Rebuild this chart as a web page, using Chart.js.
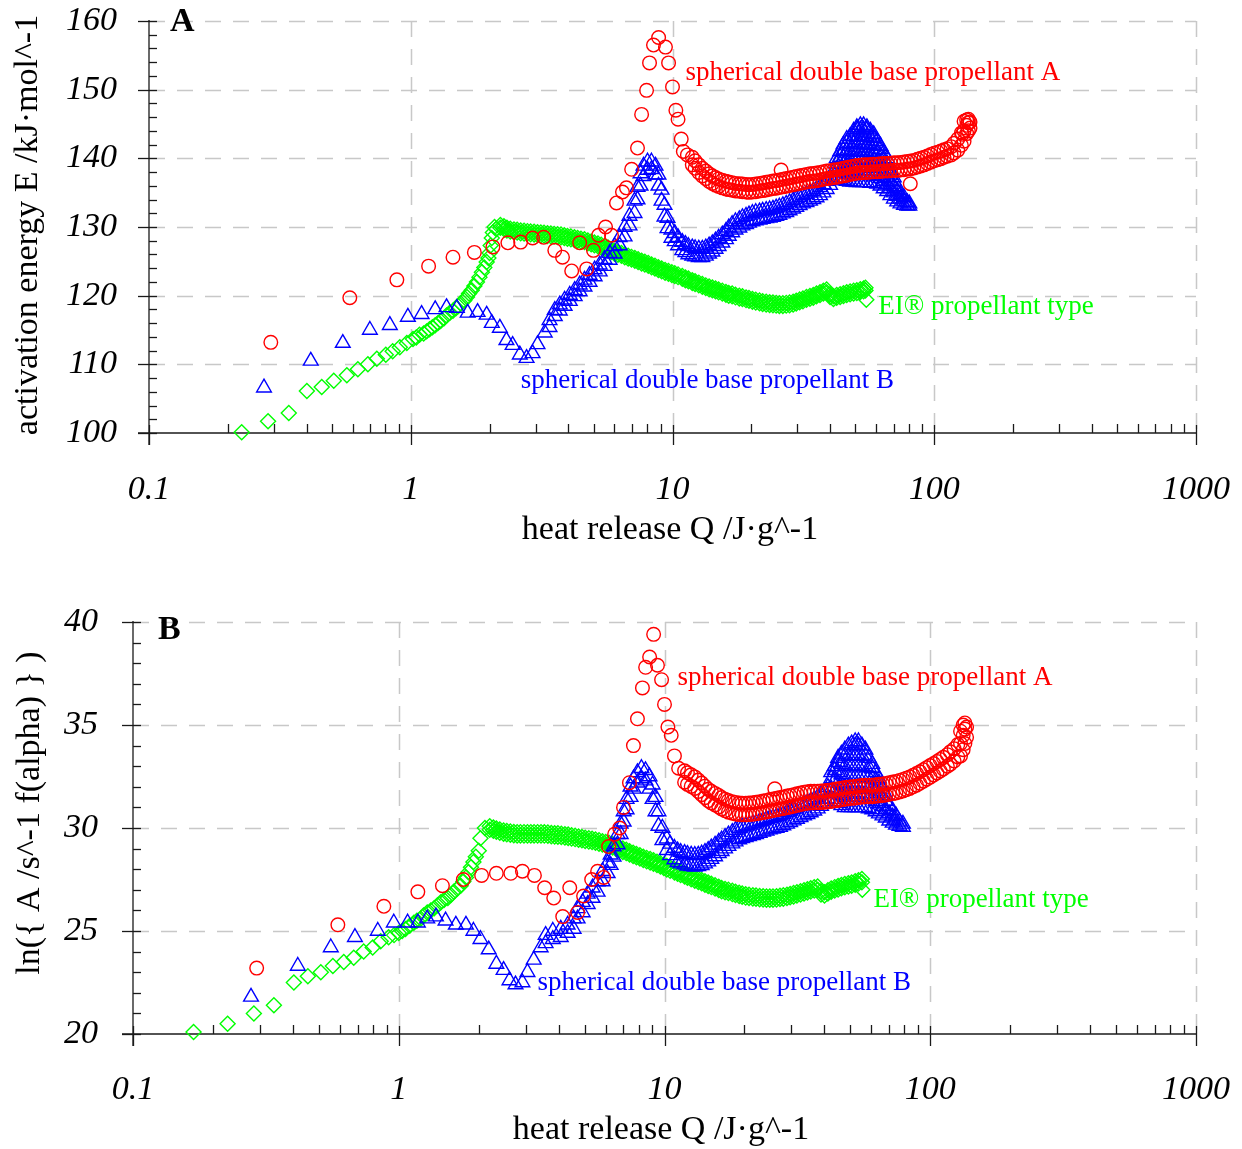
<!DOCTYPE html>
<html>
<head>
<meta charset="utf-8">
<title>Activation energy and pre-exponential factor vs heat release</title>
<script src="https://cdn.jsdelivr.net/npm/chart.js@4.4.1/dist/chart.umd.min.js"></script>
<style>
  html, body { margin: 0; padding: 0; background: #fff; }
  #wrap { position: relative; width: 1242px; height: 1149px; }
  canvas { position: absolute; left: 0; }
  #chartA { top: 0; }
  #chartB { top: 575px; }
</style>
</head>
<body>
<div id="wrap">
  <canvas id="chartA" width="1242" height="575"></canvas>
  <canvas id="chartB" width="1242" height="574"></canvas>
</div>
<script>
/* Kinetic parameters of three propellants against released heat.
   Each row is [Q, value, value, ...]: one heat release Q (J/g) and
   every reading taken at that Q. */

var Q_DECADES = [0.1, 1, 10, 100, 1000];
var Q_LABELS  = ['0.1', '1', '10', '100', '1000'];

/* ── Panel A: activation energy E /kJ·mol^-1 ── */
var A_Y_TICKS = [100, 110, 120, 130, 140, 150, 160];

var A_RED = [
  [0.292,113.2],[0.585,119.7],[0.885,122.3],[1.17,124.3],[1.45,125.6],[1.75,126.3],[2.06,127.1],
  [2.35,127.7],[2.63,127.8],[2.92,128.4],[3.22,128.5],[3.55,126.6],[3.80,125.6],[4.12,123.6],
  [4.42,127.7],[4.70,123.9],[4.99,126.6],[5.22,128.8],[5.55,130.0],[5.85,128.8],[6.11,133.5],
  [6.44,135.1],[6.67,135.7],[6.98,138.4],[7.35,141.5],[7.62,146.4],[7.96,149.9],[8.17,153.9],
  [8.46,156.5],[8.85,157.6],[9.40,156.2],[9.66,153.9],[10.0,150.4],[10.3,147.0],[10.5,145.7],
  [10.8,142.8],[11.0,141.0],[11.4,140.5],
  [11.9,139.05,140.15],[12.2,138.55,139.65],[12.6,137.95,139.05],[13.0,137.45,138.55],[13.4,137.05,138.15],
  [13.8,136.65,137.75],[14.2,136.35,137.45],[14.6,136.1,137.2],[15.0,135.9,137.0],[15.5,135.7,136.8],
  [16.0,135.55,136.65],[16.4,135.45,136.55],[16.9,135.35,136.45],[17.4,135.25,136.35],[18.0,135.2,136.3],
  [18.5,135.15,136.25],[19.1,135.1,136.2],[19.6,135.05,136.15],[20.2,135.1,136.2],[20.8,135.15,136.25],
  [21.5,135.25,136.35],[22.1,135.3,136.4],[22.8,135.4,136.5],[23.5,135.5,136.6],[24.2,135.6,136.7],
  [24.9,135.65,136.75],[25.6,135.75,136.85],[26.0,138.3],[26.4,135.85,136.95],[27.2,135.95,137.05],
  [28.0,136.05,137.15],[28.9,136.15,137.25],[29.7,136.25,137.35],[30.6,136.35,137.45],[31.5,136.45,137.55],
  [32.5,136.55,137.65],[33.5,136.65,137.75],[34.5,136.7,137.8],[35.5,136.75,137.85],[36.6,136.85,137.95],
  [37.7,136.95,138.05],[38.8,137.05,138.15],[40.0,137.1,138.2],[41.2,137.2,138.3],[42.4,137.25,138.35],
  [43.7,137.35,138.45],[45.0,137.45,138.55],[46.3,137.55,138.65],[47.7,137.65,138.75],[49.2,137.75,138.85],
  [50.6,137.85,138.95],[52.2,137.9,139.0],[53.7,137.95,139.05],[55.3,137.95,139.05],[57.0,138.0,139.1],
  [58.7,138.05,139.15],[60.5,138.05,139.15],[62.3,138.1,139.2],[64.1,138.15,139.25],[66.1,138.15,139.25],
  [68.0,138.2,139.3],[70.1,138.25,139.35],[72.2,138.25,139.35],[74.3,138.3,139.4],[76.6,138.35,139.45],
  [78.9,138.45,139.55],[81.0,136.3],[81.2,138.5,139.6],[83.7,138.6,139.7],[86.2,138.75,139.85],
  [88.8,138.9,140.0],[91.4,139.05,140.15],[94.2,139.25,140.35],[97.0,139.45,140.55],[99.9,139.65,140.75],
  [103,139.8,140.9],[106,139.95,141.05],[109,140.15,141.25],[112,140.3,141.4],[116,140.5,141.7],
  [119,140.8,142.2],[123,141.2,142.8],[127,141.9,143.7],[128,143.5],[130,142.5,144.0,145.4],
  [133,143.6,144.8,145.6],[135,144.0,145.2,145.7],[137,144.4,145.3]
];

var A_BLUE = [
  [0.275,106.6],[0.415,110.5],[0.550,113.1],[0.698,115.0],[0.832,115.7],[0.975,116.9],[1.10,117.3],
  [1.24,118.0],[1.37,118.3],[1.50,118.2],[1.65,117.5],[1.80,117.6],[1.95,117.2],[2.04,116.0],
  [2.19,115.3],[2.32,113.5],[2.45,112.8],[2.61,111.4],[2.77,110.9],[2.92,111.6],[3.05,112.9],[3.25,114.6],
  [3.39,115.4,116.4],[3.55,117.0,117.9],[3.71,117.8,118.7],[3.87,118.5,119.4],[4.05,119.2,120.1],
  [4.23,119.9,120.8],[4.42,120.6,121.6],[4.61,121.3,122.3],[4.82,122.0,123.0],[5.04,122.8,123.8],
  [5.27,123.5,124.5],[5.50,124.3,125.3],[5.75,125.2,126.2],[6.01,126.1,127.2],[6.28,127.3,128.5],
  [6.56,128.6,130.0],[6.85,130.2,131.6],[7.16,132.0,133.8],[7.35,134.0,135.8],[7.55,136.0,137.8],
  [7.75,137.4,138.9],[8.03,138.3,139.5],[8.31,138.4,139.5],[8.61,137.6,138.9],[8.84,136.0,137.6],
  [9.08,133.8,135.4],[9.32,131.5,133.2],[9.57,129.8,131.3],[9.91,128.4,129.6],
  [10.2,127.9,129.1],[10.5,127.3,128.5],[10.9,126.6,127.8],[11.2,126.3,127.5],[11.5,126.0,127.2],
  [11.9,125.8,127.0],[12.2,125.7,126.9],[12.6,125.6,126.8],[13.0,125.6,126.8],[13.4,125.8,127.0],
  [13.8,126.1,127.3],[14.2,126.4,127.6],[14.6,126.8,128.0],[15.0,127.2,128.4],[15.5,127.7,128.9],
  [16.0,128.2,129.4],[16.4,128.7,129.9],[16.9,129.2,130.4],[17.4,129.6,130.8],[18.0,129.9,131.1],
  [18.5,130.2,131.4],[19.1,130.4,131.6],[19.6,130.6,131.8],[20.2,130.8,132.0],[20.8,130.95,132.15],
  [21.5,131.05,132.25],[22.1,131.15,132.35],[22.8,131.25,132.45],[23.5,131.35,132.55],[24.2,131.45,132.65],
  [24.9,131.6,132.8],[25.6,131.75,132.95],[26.4,131.95,133.15],[27.2,132.15,133.35],[28.0,132.4,133.6],
  [28.9,132.65,133.85],[29.7,132.9,134.1],[30.6,133.15,134.35],[31.5,133.4,134.6],[32.5,133.6,134.8],
  [33.5,133.8,135.0],[34.5,134.05,135.25],[35.5,134.3,135.5],[36.6,134.6,135.8],[37.7,135.0,136.2],
  [38.8,135.5,136.7],[40.0,136.1,137.3],[41.2,136.8,138.0],
  [42.4,137.0,138.1,139.2,140.0],
  [43.7,136.9,138.0,139.1,140.2,141.0],
  [45.0,136.8,137.9,139.0,140.1,141.2,142.0],
  [46.3,136.7,137.8,138.9,140.0,141.1,142.2,142.8],
  [47.7,136.6,137.7,138.8,139.9,141.0,142.1,143.2],
  [49.2,136.6,137.7,138.8,139.9,141.0,142.1,143.2,144.0],
  [50.6,136.5,137.6,138.7,139.8,140.9,142.0,143.1,144.2,144.5],
  [52.2,136.5,137.6,138.7,139.8,140.9,142.0,143.1,144.2,144.8],
  [53.7,136.5,137.6,138.7,139.8,140.9,142.0,143.1,144.2,144.8],
  [55.3,136.5,137.6,138.7,139.8,140.9,142.0,143.1,144.2,144.5],
  [57.0,136.4,137.5,138.6,139.7,140.8,141.9,143.0,144.0],
  [58.7,136.4,137.5,138.6,139.7,140.8,141.9,142.9,143.5],
  [60.5,136.3,137.4,138.5,139.6,140.7,141.8,142.5],
  [62.3,136.0,137.1,138.2,139.3,140.4,141.3,141.8],
  [64.1,135.6,136.7,137.8,138.9,139.9,140.8],
  [66.1,135.2,136.2,137.2,138.2,139.2,140.0],
  [68.0,134.6,135.6,136.6,137.6,138.3],
  [70.1,134.1,135.0,135.9,136.7,137.2],
  [72.2,133.7,134.5,135.3,135.9],
  [74.3,133.4,134.1,134.8],[76.6,133.2,133.8,134.3],[78.9,133.1,133.6],[80.3,133.1,133.4]
];

var A_GREEN = [
  [0.226,100.1],[0.285,101.7],[0.342,102.9],[0.401,106.1],[0.457,106.7],[0.508,107.6],[0.570,108.4],
  [0.628,109.3],[0.686,110.0],[0.742,110.8],[0.803,111.4],[0.853,111.9],[0.908,112.5],[0.966,113.1],
  [1.02,113.7],[1.05,113.9],[1.08,114.3],[1.12,114.5],[1.15,114.8],[1.18,115.1],[1.21,115.4],
  [1.24,115.7],[1.27,116.0],[1.30,116.3],[1.34,116.7],[1.37,117.1],[1.41,117.5],[1.45,117.8],
  [1.49,118.2],[1.52,118.5],[1.55,118.9],[1.60,119.3],[1.64,119.8],[1.67,120.3],[1.71,120.8],
  [1.75,121.4],[1.79,122.0],[1.83,122.7],[1.87,123.4],[1.91,124.1],[1.95,124.9],[1.98,125.5],
  [2.00,126.2],[2.02,127.3],[2.04,128.4],[2.06,129.2],[2.09,130.0],[2.12,129.7],
  [2.20,129.9,130.3],[2.27,129.7,130.1],[2.33,129.5,129.9],[2.40,129.35,129.75],[2.48,129.25,129.65],
  [2.55,129.2,129.6],[2.63,129.1,129.5],[2.71,129.05,129.45],[2.79,129.0,129.4],[2.87,128.95,129.35],
  [2.96,128.9,129.3],[3.05,128.85,129.25],[3.14,128.8,129.2],[3.23,128.75,129.15],[3.33,128.7,129.1],
  [3.43,128.65,129.05],[3.53,128.6,129.0],[3.64,128.55,128.95],[3.75,128.5,128.9],[3.86,128.4,128.8],
  [3.97,128.3,128.7],[4.09,128.2,128.6],[4.22,128.1,128.5],[4.34,128.0,128.4],[4.47,127.9,128.3],
  [4.61,127.8,128.2],[4.75,127.65,128.05],[4.89,127.5,127.9],[5.03,127.35,127.75],[5.19,127.2,127.6],
  [5.34,127.0,127.4],[5.50,126.8,127.2],[5.67,126.6,127.0],[5.84,126.35,126.75],[6.01,126.1,126.5],
  [6.19,125.95,126.35],[6.38,125.8,126.2],[6.57,125.6,126.0],[6.77,125.4,125.8],[6.97,125.25,125.65],
  [7.18,125.1,125.5],[7.39,124.9,125.3],[7.62,124.7,125.1],[7.84,124.55,124.95],[8.08,124.35,124.75],
  [8.32,124.15,124.55],[8.57,123.95,124.35],[8.83,123.75,124.15],[9.09,123.55,123.95],[9.37,123.35,123.75],
  [9.65,123.2,123.6],[9.94,123.0,123.4],[10.2,122.85,123.25],[10.5,122.7,123.1],[10.9,122.45,122.85],
  [11.2,122.25,122.65],[11.5,122.1,122.5],[11.9,121.85,122.25],[12.2,121.7,122.1],[12.6,121.5,121.9],
  [13.0,121.3,121.7],[13.4,121.1,121.5],[13.8,120.95,121.35],[14.2,120.8,121.2],[14.6,120.65,121.05],
  [15.0,120.5,120.9],[15.5,120.3,120.7],[16.0,120.15,120.55],[16.4,120.0,120.4],[16.9,119.9,120.3],
  [17.4,119.75,120.15],[18.0,119.6,120.0],[18.5,119.5,119.9],[19.1,119.35,119.75],[19.6,119.25,119.65],
  [20.2,119.1,119.5],[20.8,119.0,119.4],[21.5,118.9,119.3],[22.1,118.8,119.2],[22.8,118.7,119.1],
  [23.5,118.65,119.05],[24.2,118.6,119.0],[24.9,118.55,118.95],[25.6,118.5,118.9],[26.4,118.5,118.9],
  [27.2,118.55,118.95],[28.0,118.6,119.0],[28.9,118.7,119.1],[29.7,118.85,119.25],[30.6,119.05,119.45],
  [31.5,119.2,119.6],[32.5,119.4,119.8],[33.5,119.55,119.95],[34.5,119.7,120.1],[35.5,119.9,120.3],
  [36.6,120.1,120.5],[37.7,120.3,120.7],[38.8,120.5,120.9],[40.0,119.8,120.2],[41.2,119.5,119.9],
  [42.4,119.7,120.1],[43.7,119.8,120.2],[45.0,119.95,120.35],[46.3,120.1,120.5],[47.7,120.2,120.6],
  [49.2,120.3,120.7],[50.6,120.4,120.8],[52.2,120.55,120.95],[53.7,120.65,121.05],[54.6,120.75,121.15],
  [55.0,119.4]
];

/* ── Panel B: ln{ A /s^-1 f(alpha) } ── */
var B_Y_TICKS = [20, 25, 30, 35, 40];

var B_RED = [
  [0.292,23.2],[0.590,25.3],[0.879,26.2],[1.18,26.9],[1.46,27.2],[1.75,27.5],[2.05,27.7],[2.33,27.8],
  [2.64,27.8],[2.92,27.9],[3.24,27.7],[3.54,27.1],[3.83,26.6],[4.14,25.7],[4.40,27.1],[4.71,25.9],
  [4.96,26.7],[5.32,27.5],[5.60,27.9],[5.90,27.6],[6.16,29.1],[6.49,29.7],[6.78,30.0],[7.01,31.0],
  [7.38,32.2],[7.64,34.0],[7.91,35.3],[8.26,36.8],[8.49,37.8],[8.79,38.3],[9.10,39.4],[9.41,37.9],
  [9.75,37.2],[10.0,36.0],[10.3,34.9],[10.6,34.5],[10.9,33.5],[11.3,32.9],
  [11.9,32.22,32.78],[12.2,32.12,32.68],[12.6,32.02,32.58],[13.0,31.92,32.48],[13.4,31.77,32.33],
  [13.8,31.62,32.18],[14.2,31.47,32.03],[14.6,31.32,31.88],[15.0,31.22,31.78],[15.5,31.12,31.68],
  [16.0,31.02,31.58],[16.4,30.92,31.48],[16.9,30.84,31.4],[17.4,30.77,31.33],[18.0,30.72,31.28],
  [18.5,30.68,31.24],[19.1,30.65,31.21],[19.6,30.64,31.2],[20.2,30.64,31.2],[20.8,30.65,31.21],
  [21.5,30.67,31.23],[22.1,30.69,31.25],[22.8,30.72,31.28],[23.5,30.75,31.31],[24.2,30.78,31.34],
  [24.9,30.82,31.38],[25.6,30.85,31.41],[26.0,31.9],[26.4,30.88,31.44],[27.2,30.92,31.48],
  [28.0,30.95,31.51],[28.9,30.99,31.55],[29.7,31.02,31.58],[30.6,31.06,31.62],[31.5,31.1,31.66],
  [32.5,31.14,31.7],[33.5,31.18,31.74],[34.5,31.2,31.76],[35.5,31.22,31.78],[36.6,31.22,31.78],
  [37.7,31.23,31.79],[38.8,31.24,31.8],[40.0,31.25,31.81],[41.2,31.27,31.83],[42.4,31.29,31.85],
  [43.7,31.32,31.88],[45.0,31.34,31.9],[46.3,31.37,31.93],[47.7,31.4,31.96],[49.2,31.42,31.98],
  [50.6,31.44,32.0],[52.2,31.46,32.02],[53.7,31.48,32.04],[55.3,31.5,32.06],[57.0,31.52,32.08],
  [58.7,31.52,32.08],[60.5,31.52,32.08],[62.3,31.54,32.1],[64.1,31.56,32.12],[66.1,31.58,32.14],
  [68.0,31.6,32.16],[70.1,31.64,32.2],[72.2,31.67,32.23],[74.3,31.7,32.26],[76.6,31.75,32.31],
  [78.9,31.8,32.36],[81.2,31.86,32.42],[83.7,31.92,32.48],[86.2,32.0,32.56],[88.8,32.08,32.64],
  [91.4,32.17,32.73],[94.2,32.27,32.83],[97.0,32.37,32.93],[99.9,32.47,33.03],[103,32.57,33.13],
  [106,32.67,33.23],[109,32.77,33.33],[112,32.87,33.43],[116,33.0,33.56],[119,33.1,33.7],
  [123,33.25,33.85],[127,33.45,34.05],[130,33.5,34.1,34.7],[133,33.8,34.5,35.0],[135,34.1,34.8,35.1],
  [137,34.4,34.9]
];

var B_BLUE = [
  [0.278,21.8],[0.417,23.3],[0.555,24.2],[0.684,24.7],[0.834,25.0],[0.958,25.4],[1.08,25.4],
  [1.18,25.4],[1.28,25.6],[1.38,25.7],[1.50,25.5],[1.64,25.3],[1.79,25.3],[1.91,25.0],[2.03,24.6],
  [2.18,24.1],[2.33,23.4],[2.48,23.1],[2.61,22.6],[2.75,22.4],[2.92,22.5],[3.05,23.0],[3.22,23.6],
  [3.42,24.2],[3.57,24.4,24.8],[3.80,24.6,25.0],[4.07,24.7,25.1],[4.32,24.9,25.3],[4.55,25.1,25.6],
  [4.71,25.6,26.1],[4.92,25.9,26.4],[5.14,26.3,26.8],[5.36,26.6,27.1],[5.60,26.9,27.4],[5.85,27.4,27.9],
  [6.11,27.8,28.3],[6.27,28.2,28.7],[6.43,28.6,29.1],[6.66,29.2,29.7],[6.84,29.7,30.2],[7.02,30.3,30.8],
  [7.20,30.9,31.4],[7.45,31.5,32.0],[7.65,31.9,32.4],[7.91,32.2,32.7],[8.19,32.4,32.9],[8.48,32.3,32.8],
  [8.78,31.9,32.5],[9.02,31.4,32.1],[9.25,30.8,31.5],[9.49,30.1,30.8],[9.82,29.4,30.0],
  [10.2,28.92,29.48],[10.5,28.67,29.23],[10.9,28.47,29.03],[11.2,28.34,28.9],[11.5,28.27,28.83],
  [11.9,28.22,28.78],[12.2,28.17,28.73],[12.6,28.14,28.7],[13.0,28.12,28.68],[13.4,28.14,28.7],
  [13.8,28.19,28.75],[14.2,28.27,28.83],[14.6,28.37,28.93],[15.0,28.49,29.05],[15.5,28.62,29.18],
  [16.0,28.77,29.33],[16.4,28.87,29.43],[16.9,29.0,29.56],[17.4,29.12,29.68],[18.0,29.24,29.8],
  [18.5,29.34,29.9],[19.1,29.44,30.0],[19.6,29.5,30.06],[20.2,29.55,30.11],[20.8,29.6,30.16],
  [21.5,29.65,30.21],[22.1,29.7,30.26],[22.8,29.76,30.32],[23.5,29.82,30.38],[24.2,29.87,30.43],
  [24.9,29.92,30.48],[25.6,29.96,30.52],[26.4,30.0,30.56],[27.2,30.05,30.61],[28.0,30.12,30.68],
  [28.9,30.2,30.76],[29.7,30.28,30.84],[30.6,30.36,30.92],[31.5,30.44,31.0],[32.5,30.52,31.08],
  [33.5,30.6,31.16],[34.5,30.67,31.23],[35.5,30.75,31.31],[36.6,30.84,31.4],[37.7,30.94,31.5],
  [38.8,31.06,31.62],[40.0,31.22,31.78],[41.2,31.42,31.98],
  [42.4,31.4,31.9,32.4,32.7],
  [43.7,31.3,31.8,32.3,32.8,33.0],
  [45.0,31.2,31.7,32.2,32.7,33.2,33.4],
  [46.3,31.1,31.6,32.1,32.6,33.1,33.6],
  [47.7,31.0,31.5,32.0,32.5,33.0,33.5,33.8],
  [49.2,31.0,31.5,32.0,32.5,33.0,33.5,34.0],
  [50.6,31.0,31.5,32.0,32.5,33.0,33.5,34.1],
  [52.2,31.0,31.5,32.0,32.5,33.0,33.5,34.0,34.2],
  [53.7,31.0,31.5,32.0,32.5,33.0,33.5,34.0,34.2],
  [55.3,31.0,31.5,32.0,32.5,33.0,33.5,34.0],
  [57.0,31.0,31.5,32.0,32.5,33.0,33.5,33.8],
  [58.7,30.95,31.45,31.95,32.45,32.95,33.4],
  [60.5,30.9,31.4,31.9,32.4,32.9,33.1],
  [62.3,30.8,31.3,31.8,32.3,32.7],
  [64.1,30.7,31.2,31.7,32.2,32.4],
  [66.1,30.6,31.05,31.5,31.9],
  [68.0,30.5,30.9,31.3,31.6],
  [70.1,30.35,30.7,31.05],
  [72.2,30.25,30.55,30.85],
  [74.3,30.15,30.4,30.6],[76.6,30.1,30.3],[78.9,30.05,30.2]
];

var B_GREEN = [
  [0.169,20.1],[0.227,20.5],[0.285,21.0],[0.339,21.4],[0.403,22.5],[0.455,22.8],[0.509,23.0],
  [0.565,23.3],[0.621,23.5],[0.677,23.7],[0.738,24.0],[0.798,24.2],[0.855,24.5],[0.916,24.7],
  [0.96,24.8],[1.00,24.9],[1.03,25.0],[1.06,25.1],[1.10,25.25],[1.14,25.4],[1.17,25.5],[1.21,25.6],
  [1.24,25.75],[1.28,25.9],[1.32,26.0],[1.36,26.1],[1.40,26.25],[1.44,26.4],[1.48,26.5],[1.53,26.6],
  [1.57,26.75],[1.61,26.9],[1.66,27.05],[1.71,27.2],[1.75,27.4],[1.79,27.6],[1.83,27.85],[1.87,28.1],
  [1.91,28.35],[1.95,28.6],[2.00,28.9],[2.03,29.5],[2.11,30.0],
  [2.20,29.92,30.08],[2.27,29.87,30.03],[2.33,29.82,29.98],[2.40,29.77,29.93],[2.48,29.72,29.88],
  [2.55,29.7,29.86],[2.63,29.67,29.83],[2.71,29.65,29.81],[2.79,29.64,29.8],[2.87,29.64,29.8],
  [2.96,29.64,29.8],[3.05,29.64,29.8],[3.14,29.64,29.8],[3.23,29.64,29.8],[3.33,29.64,29.8],
  [3.43,29.64,29.8],[3.53,29.63,29.79],[3.64,29.62,29.78],[3.75,29.6,29.76],[3.86,29.59,29.75],
  [3.97,29.58,29.74],[4.09,29.56,29.72],[4.22,29.54,29.7],[4.34,29.52,29.68],[4.47,29.49,29.65],
  [4.61,29.46,29.62],[4.75,29.43,29.59],[4.89,29.4,29.56],[5.03,29.37,29.53],[5.19,29.34,29.5],
  [5.34,29.32,29.48],[5.50,29.28,29.44],[5.67,29.24,29.4],[5.84,29.2,29.36],[6.01,29.16,29.32],
  [6.19,29.11,29.27],[6.38,29.05,29.21],[6.57,28.98,29.14],[6.77,28.91,29.07],[6.97,28.84,29.0],
  [7.18,28.78,28.94],[7.39,28.71,28.87],[7.62,28.64,28.8],[7.84,28.58,28.74],[8.08,28.52,28.68],
  [8.32,28.45,28.61],[8.57,28.39,28.55],[8.83,28.33,28.49],[9.09,28.27,28.43],[9.37,28.2,28.36],
  [9.65,28.13,28.29],[9.94,28.06,28.22],[10.2,27.99,28.15],[10.5,27.92,28.08],[10.9,27.84,28.0],
  [11.2,27.78,27.94],[11.5,27.72,27.88],[11.9,27.64,27.8],[12.2,27.58,27.74],[12.6,27.51,27.67],
  [13.0,27.44,27.6],[13.4,27.38,27.54],[13.8,27.32,27.48],[14.2,27.25,27.41],[14.6,27.19,27.35],
  [15.0,27.13,27.29],[15.5,27.06,27.22],[16.0,26.99,27.15],[16.4,26.93,27.09],[16.9,26.88,27.04],
  [17.4,26.84,27.0],[18.0,26.79,26.95],[18.5,26.75,26.91],[19.1,26.7,26.86],[19.6,26.66,26.82],
  [20.2,26.62,26.78],[20.8,26.6,26.76],[21.5,26.58,26.74],[22.1,26.56,26.72],[22.8,26.54,26.7],
  [23.5,26.53,26.69],[24.2,26.52,26.68],[24.9,26.52,26.68],[25.6,26.52,26.68],[26.4,26.53,26.69],
  [27.2,26.55,26.71],[28.0,26.57,26.73],[28.9,26.6,26.76],[29.7,26.64,26.8],[30.6,26.68,26.84],
  [31.5,26.72,26.88],[32.5,26.77,26.93],[33.5,26.82,26.98],[34.5,26.87,27.03],[35.5,26.92,27.08],
  [36.6,26.96,27.12],[37.7,27.0,27.16],[38.8,26.77,26.93],[40.0,26.72,26.88],[41.2,26.82,26.98],
  [42.4,26.9,27.06],[43.7,26.97,27.13],[45.0,27.02,27.18],[46.3,27.07,27.23],[47.7,27.12,27.28],
  [49.2,27.16,27.32],[50.6,27.2,27.36],[52.2,27.25,27.41],[53.7,27.3,27.46],[55.3,27.37,27.53],
  [55.5,27.0]
];

var FONT = '"Liberation Serif", "Times New Roman", serif';
var COL = { red: '#ff0000', blue: '#0000ff', green: '#00ff00', grid: '#c8c8c8', axis: '#1a1a1a' };

/* rows -> {x, y} points */
function toPoints(rows) {
  var pts = [];
  rows.forEach(function (r) {
    for (var i = 1; i < r.length; i++) pts.push({ x: r[0], y: r[i] });
  });
  return pts;
}

function series(label, rows, color, style, radius) {
  return {
    label: label,
    data: toPoints(rows),
    pointStyle: style,
    pointRadius: radius,
    pointBorderWidth: 1.4,
    borderColor: color,
    backgroundColor: 'rgba(0,0,0,0)',
    showLine: false,
    clip: false,
  };
}

function seg(ctx, x1, y1, x2, y2) {
  ctx.beginPath(); ctx.moveTo(x1, y1); ctx.lineTo(x2, y2); ctx.stroke();
}

/* dashed grid, axes with major/minor ticks, tick labels, titles and curve labels */
var frame = {
  id: 'frame',
  beforeDatasetsDraw: function (chart, args, o) {
    var ctx = chart.ctx, a = chart.chartArea, xs = chart.scales.x, ys = chart.scales.y;
    var yT = o.yTicks, v, k, m, px, py;
    ctx.save();
    ctx.strokeStyle = COL.grid; ctx.lineWidth = 1.5; ctx.setLineDash([16, 12]);
    Q_DECADES.slice(1).forEach(function (q) {
      px = Math.round(xs.getPixelForValue(q)) + 0.5;
      seg(ctx, px, a.top, px, a.bottom);
    });
    yT.slice(1).forEach(function (t) {
      py = Math.round(ys.getPixelForValue(t)) + 0.5;
      seg(ctx, a.left, py, a.right, py);
    });
    ctx.setLineDash([]);

    ctx.strokeStyle = COL.axis; ctx.lineWidth = 1.3;
    seg(ctx, a.left, a.top - 1, a.left, a.bottom + 12);
    seg(ctx, a.left - 11, a.bottom, a.right, a.bottom);
    // x: decades cross the axis, 2..9 point inward
    Q_DECADES.forEach(function (q) {
      px = Math.round(xs.getPixelForValue(q)) + 0.5;
      seg(ctx, px, a.bottom - 8, px, a.bottom + 12);
    });
    for (k = -1; k < 3; k++) {
      for (m = 2; m < 10; m++) {
        px = Math.round(xs.getPixelForValue(m * Math.pow(10, k))) + 0.5;
        seg(ctx, px, a.bottom - 9, px, a.bottom);
      }
    }
    // y: majors cross the axis, minors point inward
    for (v = yT[0]; v <= yT[yT.length - 1] + 1e-9; v += o.yMinorStep) {
      py = Math.round(ys.getPixelForValue(v)) + 0.5;
      if (yT.indexOf(Math.round(v * 1000) / 1000) >= 0) seg(ctx, a.left - 11, py, a.left + 8, py);
      else seg(ctx, a.left, py, a.left + 8, py);
    }

    // tick labels
    ctx.fillStyle = '#000';
    ctx.font = 'italic 34px ' + FONT;
    ctx.textBaseline = 'middle';
    ctx.textAlign = 'center';
    Q_DECADES.forEach(function (q, i) {
      ctx.fillText(Q_LABELS[i], xs.getPixelForValue(q), a.bottom + o.xLabelGap);
    });
    ctx.textAlign = 'right';
    yT.forEach(function (t) {
      ctx.fillText(String(t), a.left - o.yLabelGap, ys.getPixelForValue(t));
    });
    ctx.restore();
  },
  afterDraw: function (chart, args, o) {
    var ctx = chart.ctx, a = chart.chartArea, xs = chart.scales.x, ys = chart.scales.y;
    ctx.save();
    ctx.textBaseline = 'middle';
    ctx.textAlign = 'left';
    ctx.font = '27px ' + FONT;
    o.notes.forEach(function (n) {
      ctx.fillStyle = n.color;
      ctx.fillText(n.text, xs.getPixelForValue(n.q), ys.getPixelForValue(n.v));
    });
    ctx.fillStyle = '#000';
    ctx.font = 'bold 34px ' + FONT;
    ctx.fillText(o.letter, a.left + o.letterAt[0], a.top + o.letterAt[1]);
    ctx.font = '34px ' + FONT;
    ctx.textAlign = 'center';
    ctx.fillText(o.xTitle, o.xTitleAt[0], o.xTitleAt[1]);
    ctx.translate(o.yTitleAt[0], o.yTitleAt[1]);
    ctx.rotate(-Math.PI / 2);
    ctx.fillText(o.yTitle, 0, 0);
    ctx.restore();
  }
};

function makePanel(id, p) {
  return new Chart(document.getElementById(id), {
    type: 'scatter',
    data: {
      datasets: [
        series('spherical double base propellant A', p.red, COL.red, 'circle', 6.8),
        series('spherical double base propellant B', p.blue, COL.blue, 'triangle', 8.5),
        series('EI® propellant type', p.green, COL.green, 'rectRot', 7.5),
      ],
    },
    options: {
      responsive: false,
      animation: false,
      devicePixelRatio: 1,
      layout: { padding: { top: p.padTop, right: 46, left: 0, bottom: 0 } },
      plugins: {
        legend: { display: false },
        tooltip: { enabled: false },
        frame: p.frame,
      },
      scales: {
        x: {
          type: 'logarithmic',
          min: Q_DECADES[0],
          max: Q_DECADES[Q_DECADES.length - 1],
          grid: { display: false, drawTicks: false },
          border: { display: false },
          ticks: { display: false },
          afterFit: function (s) { s.height = p.xHeight; },
        },
        y: {
          min: p.yTicks[0],
          max: p.yTicks[p.yTicks.length - 1],
          grid: { display: false, drawTicks: false },
          border: { display: false },
          ticks: { display: false, stepSize: p.yTicks[1] - p.yTicks[0] },
          afterFit: function (s) { s.width = p.yWidth; },
        },
      },
    },
    plugins: [frame],
  });
}

makePanel('chartA', {
  red: A_RED, blue: A_BLUE, green: A_GREEN, yTicks: A_Y_TICKS,
  padTop: 21, xHeight: 142, yWidth: 149,
  frame: {
    yTicks: A_Y_TICKS, yMinorStep: 2, xLabelGap: 57, yLabelGap: 32,
    letter: 'A', letterAt: [21, 1],
    xTitle: 'heat release Q /J·g^-1', xTitleAt: [670, 530],
    yTitle: 'activation energy E /kJ·mol^-1', yTitleAt: [28, 225],
    notes: [
      { text: 'spherical double base propellant A', color: COL.red, q: 11.2, v: 152.5 },
      { text: 'spherical double base propellant B', color: COL.blue, q: 2.63, v: 107.6 },
      { text: 'EI® propellant type', color: COL.green, q: 61.1, v: 118.3 },
    ],
  },
});

makePanel('chartB', {
  red: B_RED, blue: B_BLUE, green: B_GREEN, yTicks: B_Y_TICKS,
  padTop: 47, xHeight: 115, yWidth: 133,
  frame: {
    yTicks: B_Y_TICKS, yMinorStep: 1, xLabelGap: 56, yLabelGap: 35,
    letter: 'B', letterAt: [25, 8],
    xTitle: 'heat release Q /J·g^-1', xTitleAt: [661, 555],
    yTitle: 'ln({ A /s^-1 f(alpha) } )', yTitleAt: [30, 238],
    notes: [
      { text: 'spherical double base propellant A', color: COL.red, q: 11.2, v: 37.3 },
      { text: 'spherical double base propellant B', color: COL.blue, q: 3.33, v: 22.5 },
      { text: 'EI® propellant type', color: COL.green, q: 61.1, v: 26.5 },
    ],
  },
});
</script>
</body>
</html>
